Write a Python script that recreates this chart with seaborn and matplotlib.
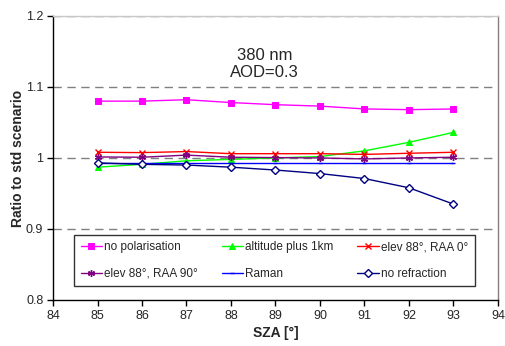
import matplotlib
matplotlib.use("Agg")
import matplotlib.pyplot as plt
import seaborn as sns
import pandas as pd

sza = [85, 86, 87, 88, 89, 90, 91, 92, 93]
no_polarisation = [1.080, 1.080, 1.082, 1.078, 1.075, 1.073, 1.069, 1.068, 1.069]
altitude_plus_1km = [0.987, 0.991, 0.996, 0.998, 1.000, 1.002, 1.010, 1.022, 1.036]
elev88_raa0 = [1.008, 1.0075, 1.009, 1.006, 1.006, 1.006, 1.005, 1.0066, 1.008]
elev88_raa90 = [1.0014, 1.001, 1.004, 1.001, 1.0005, 1.000, 0.9986, 1.000, 1.001]
raman = [0.9925, 0.9925, 0.9925, 0.9925, 0.9925, 0.9925, 0.9925, 0.9925, 0.9925]
no_refraction = [0.993, 0.991, 0.990, 0.987, 0.983, 0.978, 0.971, 0.958, 0.935]

series_names = ["no polarisation", "altitude plus 1km", "elev 88°, RAA 0°",
                "elev 88°, RAA 90°", "Raman", "no refraction"]
series_values = [no_polarisation, altitude_plus_1km, elev88_raa0,
                 elev88_raa90, raman, no_refraction]

rows = []
for name, vals in zip(series_names, series_values):
    for x, v in zip(sza, vals):
        rows.append({"SZA": x, "ratio": v, "series": name})
df = pd.DataFrame(rows)

sns.set_theme(style="white")
plt.rcParams['font.family'] = ['Liberation Sans', 'DejaVu Sans']

colors = {"no polarisation": "#FF00FF", "altitude plus 1km": "#00FF00",
          "elev 88°, RAA 0°": "#FF0000", "elev 88°, RAA 90°": "#800080",
          "Raman": "#0000FF", "no refraction": "#000080"}
styles = {
    "no polarisation": dict(marker="s", ms=4.5, mfc="#FF00FF", mec="#FF00FF"),
    "altitude plus 1km": dict(marker="^", ms=4.5, mfc="#00FF00", mec="#00FF00"),
    "elev 88°, RAA 0°": dict(marker="x", ms=4.5, mew=1.0, mec="#FF0000"),
    "elev 88°, RAA 90°": dict(marker=(6, 2, 0), ms=5, mew=1.0, mec="#800080"),
    "Raman": dict(marker="_", ms=3, mew=1.0, mec="#0000FF"),
    "no refraction": dict(marker="D", ms=4, mfc="white", mec="#000080", mew=1.0),
}

fig = plt.figure(figsize=(5.05, 3.46), dpi=100)
ax = fig.add_axes([0.105, 0.133, 0.881, 0.821])

for name in series_names:
    sub = df[df["series"] == name]
    sns.lineplot(data=sub, x="SZA", y="ratio", ax=ax, color=colors[name],
                 lw=1.0, label=name, **styles[name])

ax.set_xlim(84, 94)
ax.set_ylim(0.8, 1.2)
ax.set_xticks(range(84, 95))
ax.set_yticks([0.8, 0.9, 1.0, 1.1, 1.2])
ax.set_yticklabels(["0.8", "0.9", "1", "1.1", "1.2"])
for y in [0.9, 1.0, 1.1, 1.2]:
    ax.axhline(y, color="#808080", lw=1.0, ls=(0, (6, 4)), zorder=0)

for s in ["top", "right"]:
    ax.spines[s].set_color("#c8c8c8")
    ax.spines[s].set_linewidth(1.0)
ax.spines["right"].set_color("#808080")
for s in ["left", "bottom"]:
    ax.spines[s].set_color("black")
    ax.spines[s].set_linewidth(1.0)

ax.tick_params(axis="both", direction="out", length=4, width=1, color="black",
               labelsize=9, pad=3, left=True, bottom=True)
ax.set_xlabel("SZA [°]", fontsize=10, fontweight="bold", labelpad=3)
ax.set_ylabel("Ratio to std scenario", fontsize=10, fontweight="bold", labelpad=1)

ax.text(0.475, 0.831, "380 nm\nAOD=0.3", transform=ax.transAxes, ha="center",
        va="center", fontsize=12, linespacing=1.2)

handles, labels = ax.get_legend_handles_labels()
order = [0, 3, 1, 4, 2, 5]
leg = ax.legend([handles[i] for i in order], [labels[i] for i in order],
                loc="lower center", bbox_to_anchor=(0.498, 0.028), ncol=3,
                fontsize=8.5, frameon=True, fancybox=False, handlelength=1.8,
                handletextpad=0.2, columnspacing=2.0, borderpad=0.55,
                labelspacing=1.2, edgecolor="black")
leg.get_frame().set_linewidth(1.0)

fig.savefig("out.png", dpi=100)
